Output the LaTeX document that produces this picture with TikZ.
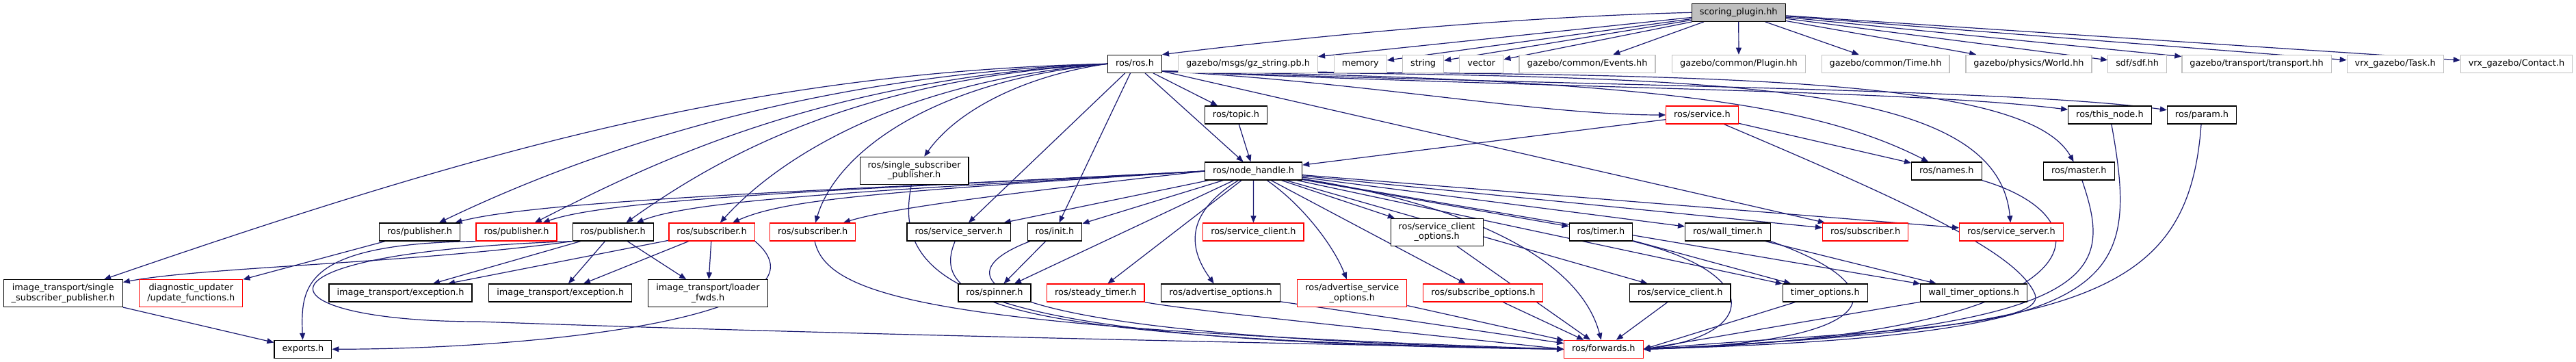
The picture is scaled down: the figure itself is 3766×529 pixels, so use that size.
\documentclass[tikz,border=0pt]{standalone}
\usepackage{fontspec}
\setmainfont{DejaVu Sans}
\usepackage{xcolor}
\usepackage{tikz}
\usetikzlibrary{arrows.meta,positioning,backgrounds}
\definecolor{edgeblue}{RGB}{25,25,112}
\definecolor{sysgrey}{RGB}{191,191,191}
\definecolor{cutred}{RGB}{255,0,0}
\newcommand{\hdrfont}{\fontsize{12.9}{14.3}\selectfont}

\begin{document}
\begin{tikzpicture}[x=1pt, y=-1pt,
    box/.style={draw=black, fill=white, line width=1.2pt, inner xsep=11.5pt, inner ysep=2pt, font=\hdrfont},
    hdr/.style={box, minimum height=26pt, text height=9.6pt, text depth=3pt},
    hdrtwo/.style={box, align=center, minimum height=40pt},
    sys/.style={draw=sysgrey},
    cut/.style={draw=cutred},
    cur/.style={fill=sysgrey},
    inc/.style={draw=edgeblue, line width=1.2pt, -{Triangle[length=10pt,width=8pt]}}]
    \useasboundingbox (0,0) rectangle (3766,529);

    % File itself
    \node[hdr, cur] (scoring) at (2541.7,18.3) {scoring\_plugin.hh};

    % Direct includes
    \node[hdr] (rosh) at (1659,93.3) {ros/ros.h};
    \node[hdr, sys] (gzstr) at (1824.5,93.3) {gazebo/msgs/gz\_string.pb.h};
    \node[hdr, sys] (memory) at (1988.9,93.3) {memory};
    \node[hdr, sys] (string) at (2080.6,93.3) {string};
    \node[hdr, sys] (vector) at (2165.8,93.3) {vector};
    \node[hdr, sys] (events) at (2320.5,93.3) {gazebo/common/Events.hh};
    \node[hdr, sys] (plugin) at (2542,93.3) {gazebo/common/Plugin.hh};
    \node[hdr, sys] (gztime) at (2756.5,93.3) {gazebo/common/Time.hh};
    \node[hdr, sys] (world) at (2966,93.3) {gazebo/physics/World.hh};
    \node[hdr, sys] (sdf) at (3124.6,93.3) {sdf/sdf.hh};
    \node[hdr, sys] (transport) at (3299,93.3) {gazebo/transport/transport.hh};
    \node[hdr, sys] (task) at (3501.7,93.3) {vrx\_gazebo/Task.h};
    \node[hdr, sys] (contact) at (3679,93.3) {vrx\_gazebo/Contact.h};

    % ros.h level
    \node[hdr] (topic) at (1807,168) {ros/topic.h};
    \node[hdr, cut] (service) at (2488.4,168) {ros/service.h};
    \node[hdr] (thisnode) at (3084.4,168) {ros/this\_node.h};
    \node[hdr] (param) at (3219,168) {ros/param.h};
    \node[hdrtwo] (ssp) at (1336.6,249.3) {ros/single\_subscriber\\\_publisher.h};
    \node[hdr] (nh) at (1832.6,250) {ros/node\_handle.h};
    \node[hdr] (names) at (2845.8,250) {ros/names.h};
    \node[hdr] (master) at (3039.3,250) {ros/master.h};

    % node_handle.h level
    \node[hdr] (pubA) at (613.6,339) {ros/publisher.h};
    \node[hdr, cut] (pubB) at (755,339) {ros/publisher.h};
    \node[hdr] (pubC) at (896.2,339) {ros/publisher.h};
    \node[hdr, cut] (subA) at (1040.6,339) {ros/subscriber.h};
    \node[hdr, cut] (subB) at (1188.2,339) {ros/subscriber.h};
    \node[hdr] (srvA) at (1401.8,339) {ros/service\_server.h};
    \node[hdr] (init) at (1542,339) {ros/init.h};
    \node[hdr, cut] (svcclA) at (1832.4,339) {ros/service\_client.h};
    \node[hdrtwo] (svcclopt) at (2100.7,339.2) {ros/service\_client\\\_options.h};
    \node[hdr] (timer) at (2340.4,339) {ros/timer.h};
    \node[hdr] (walltimer) at (2525.9,339) {ros/wall\_timer.h};
    \node[hdr, cut] (subC) at (2727.2,339) {ros/subscriber.h};
    \node[hdr, cut] (srvB) at (2940.4,339) {ros/service\_server.h};

    % Lower levels
    \node[hdrtwo] (itssp) at (92.2,428.7) {image\_transport/single\\\_subscriber\_publisher.h};
    \node[hdrtwo, cut] (diag) at (279.3,428.7) {diagnostic\_updater\\/update\_functions.h};
    \node[hdr] (excA) at (585.5,428) {image\_transport/exception.h};
    \node[hdr] (excB) at (819.2,428) {image\_transport/exception.h};
    \node[hdrtwo] (loader) at (1035,428.7) {image\_transport/loader\\\_fwds.h};
    \node[hdr] (spinner) at (1454,428) {ros/spinner.h};
    \node[hdr, cut] (steady) at (1601.8,428) {ros/steady\_timer.h};
    \node[hdr] (advopt) at (1784.6,428) {ros/advertise\_options.h};
    \node[hdrtwo, cut] (advsrvopt) at (1976.8,428.7) {ros/advertise\_service\\\_options.h};
    \node[hdr, cut] (subopt) at (2168.3,428) {ros/subscribe\_options.h};
    \node[hdr] (svcclB) at (2456.3,428) {ros/service\_client.h};
    \node[hdr] (timeropt) at (2668.3,428) {timer\_options.h};
    \node[hdr] (walltimeropt) at (2885.7,428) {wall\_timer\_options.h};
    \node[hdr] (exports) at (442.9,510.3) {exports.h};
    \node[hdr, cut] (fwd) at (2344.4,510.3) {ros/forwards.h};
    \coordinate (wrap) at (700,470);
    \coordinate (svcturn) at (2975,430);

    \begin{scope}[on background layer]
    % Edges from scoring_plugin.hh
    \draw[inc] (scoring.west) .. controls (2200,25) and (1900,55) .. (rosh.north east);
    \draw[inc] (scoring) -- (gzstr);
    \draw[inc] (scoring) -- (memory);
    \draw[inc] (scoring) -- (string);
    \draw[inc] (scoring) -- (vector);
    \draw[inc] (scoring.195) -- (events);
    \draw[inc] (scoring) -- (plugin);
    \draw[inc] (scoring) -- (gztime);
    \draw[inc] (scoring) -- (world);
    \draw[inc] (scoring) -- (sdf);
    \draw[inc] (scoring) -- (transport);
    \draw[inc] (scoring) -- (task);
    \draw[inc] (scoring) -- (contact);

    % Edges from ros/ros.h
    \draw[inc] (rosh.west) .. controls (1100,105) and (700,220) .. (itssp);
    \draw[inc] (rosh.west) .. controls (1150,110) and (820,240) .. (pubA);
    \draw[inc] (rosh.west) .. controls (1200,115) and (950,240) .. (pubB);
    \draw[inc] (rosh.west) .. controls (1250,115) and (1050,230) .. (pubC);
    \draw[inc] (rosh.west) .. controls (1300,120) and (1130,240) .. (subA);
    \draw[inc] (rosh.west) .. controls (1350,120) and (1220,230) .. (subB);
    \draw[inc] (rosh.west) .. controls (1500,110) and (1400,160) .. (ssp);
    \draw[inc] (rosh) -- (srvA);
    \draw[inc] (rosh) -- (init);
    \draw[inc] (rosh) -- (nh);
    \draw[inc] (rosh) -- (topic);
    \draw[inc] (rosh.-15) .. controls (2000,120) and (2250,168) .. (service.west);
    \draw[inc] (rosh.-15) .. controls (2400,115) and (2650,150) .. (names);
    \draw[inc] (rosh.-15) .. controls (2300,130) and (2800,132) .. (thisnode);
    \draw[inc] (rosh.-15) .. controls (2300,125) and (2950,130) .. (param);
    \draw[inc] (rosh.-15) .. controls (2500,108) and (2960,110) .. (master);
    \draw[inc] (rosh.-15) .. controls (2500,112) and (2920,112) .. (srvB);
    \draw[inc] (rosh.-15) -- (subC);

    % Second level
    \draw[inc] (topic) -- (nh);
    \draw[inc] (service) -- (nh);
    \draw[inc] (service) -- (names);
    \draw[inc] (service) .. controls (2800,300) and (2950,370) .. (svcturn) .. controls (2995,480) and (2700,485) .. (fwd.east);
    \draw[inc] (names.south east) .. controls (3090,320) and (3080,490) .. (fwd.east);
    \draw[inc] (master) .. controls (3090,400) and (3080,480) .. (fwd.east);
    \draw[inc] (thisnode) .. controls (3130,420) and (3100,490) .. (fwd.east);
    \draw[inc] (param) .. controls (3200,430) and (3050,480) .. (fwd.east);

    % Edges from ros/node_handle.h
    \draw[inc] (nh.west) .. controls (1300,275) and (800,290) .. (pubA);
    \draw[inc] (nh.west) .. controls (1300,275) and (900,288) .. (pubB);
    \draw[inc] (nh.west) .. controls (1300,278) and (1020,290) .. (pubC);
    \draw[inc] (nh.west) .. controls (1300,280) and (1150,290) .. (subA);
    \draw[inc] (nh.west) .. controls (1450,285) and (1300,305) .. (subB);
    \draw[inc] (nh) -- (srvA);
    \draw[inc] (nh) -- (init);
    \draw[inc] (nh) -- (spinner);
    \draw[inc] (nh) -- (steady);
    \draw[inc] (nh) .. controls (1735,310) and (1735,360) .. (advopt);
    \draw[inc] (nh) -- (svcclA);
    \draw[inc] (nh) .. controls (1905,300) and (1950,360) .. (advsrvopt);
    \draw[inc] (nh) -- (svcclopt);
    \draw[inc] (nh) -- (subopt);
    \draw[inc] (nh) -- (timer);
    \draw[inc] (nh) -- (walltimer);
    \draw[inc] (nh) -- (svcclB);
    \draw[inc] (nh) -- (timeropt);
    \draw[inc] (nh) -- (walltimeropt);
    \draw[inc] (nh) -- (subC);
    \draw[inc] (nh) -- (srvB);
    \draw[inc] (nh) .. controls (2150,300) and (2310,380) .. (fwd);

    % Third level
    \draw[inc] (timer) -- (timeropt);
    \draw[inc] (walltimer) -- (walltimeropt);
    \draw[inc] (timer.south east) .. controls (2580,400) and (2570,490) .. (fwd.east);
    \draw[inc] (walltimer.south east) .. controls (2780,420) and (2760,500) .. (fwd.east);
    \draw[inc] (timeropt) -- (fwd.east);
    \draw[inc] (walltimeropt) -- (fwd.east);
    \draw[inc] (svcclB) -- (fwd);
    \draw[inc] (subopt) -- (fwd);
    \draw[inc] (svcclopt) -- (fwd);
    \draw[inc] (advsrvopt) -- (fwd);
    \draw[inc] (advopt) -- (fwd);
    \draw[inc] (steady.south east) .. controls (1750,455) and (2000,480) .. (fwd.west);
    \draw[inc] (ssp) .. controls (1300,430) and (1450,500) .. (fwd.west);
    \draw[inc] (srvA) .. controls (1360,440) and (1450,495) .. (fwd.west);
    \draw[inc] (init) .. controls (1380,400) and (1380,490) .. (fwd.west);
    \draw[inc] (subB) .. controls (1210,440) and (1400,480) .. (fwd.west);
    \draw[inc] (init) -- (spinner);

    % Publisher and subscriber includes
    \draw[inc] (pubA) -- (diag);
    \draw[inc] (pubB.south west) .. controls (440,356) and (440,420) .. (exports);
    \draw[inc] (pubC.south west) .. controls (330,370) and (380,470) .. (wrap) .. controls (1200,488) and (1800,500) .. (fwd.west);
    \draw[inc] (pubC.south west) .. controls (600,385) and (300,390) .. (itssp);
    \draw[inc] (pubC) -- (excA);
    \draw[inc] (pubC) -- (excB);
    \draw[inc] (pubC) -- (loader);
    \draw[inc] (subA) -- (excA);
    \draw[inc] (subA) -- (excB);
    \draw[inc] (subA) -- (loader);
    \draw[inc] (subA.south east) .. controls (1230,460) and (800,510) .. (exports.east);
    \draw[inc] (itssp) -- (exports);
    \end{scope}
\end{tikzpicture}
\end{document}
